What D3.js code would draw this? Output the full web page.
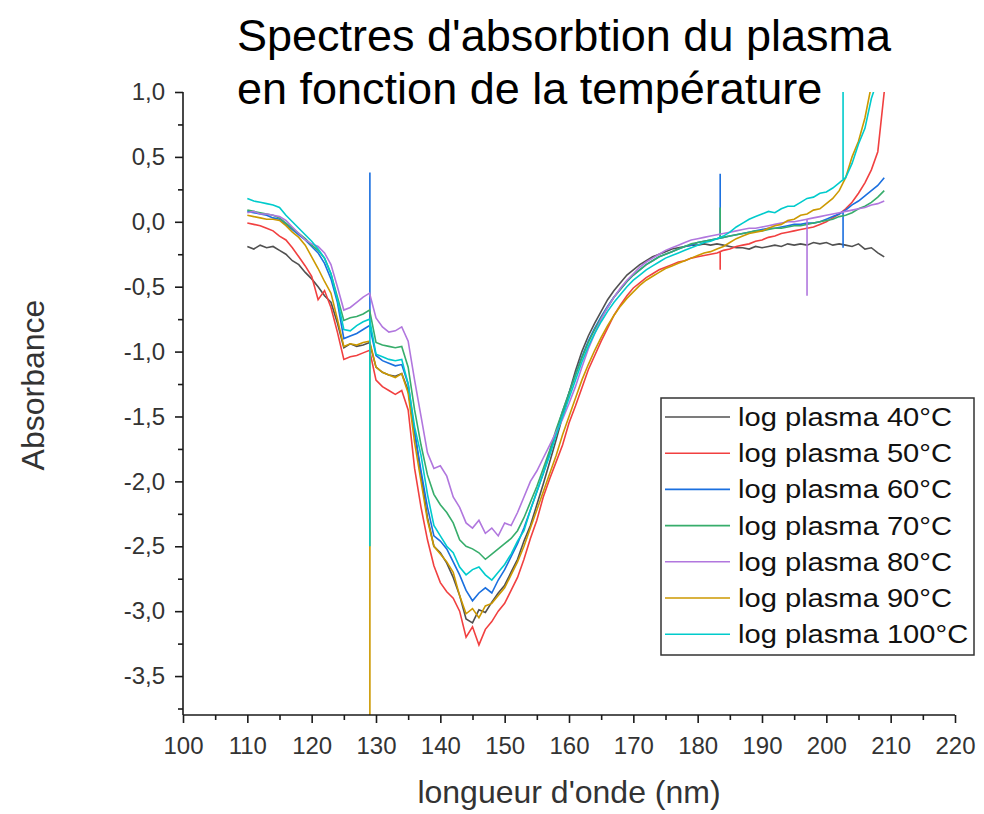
<!DOCTYPE html>
<html><head><meta charset="utf-8">
<script src="https://cdn.jsdelivr.net/npm/d3@7/dist/d3.min.js"></script>
<style>body{margin:0;background:#fff}svg{display:block}text{font-family:"Liberation Sans",Arial,sans-serif}</style>
</head><body>
<svg id="chart" width="984" height="814"></svg>
<script>
const titleLines = ["Spectres d'absorbtion du plasma", "en fonction de la température"];
const xLabel = "longueur d'onde (nm)";
const yLabel = "Absorbance";
const xTicks = [100,110,120,130,140,150,160,170,180,190,200,210,220];
const xMinor = [105,115,125,135,145,155,165,175,185,195,205,215];
const yTicks = [1.0,0.5,0.0,-0.5,-1.0,-1.5,-2.0,-2.5,-3.0,-3.5];
const yMinor = [0.75,0.25,-0.25,-0.75,-1.25,-1.75,-2.25,-2.75,-3.25,-3.75];
const seriesNames = ["log plasma 40°C","log plasma 50°C","log plasma 60°C","log plasma 70°C","log plasma 80°C","log plasma 90°C","log plasma 100°C"];
const seriesColors = ["#515151","#F14040","#1A6FDF","#37AD6B","#B177DE","#CC9900","#00CBCC"];

const wavelength = [110,111,112,113,114,115,116,117,118,119,120,121,122,123,124,125,126,127,128,129,
130,131,132,133,134,135,136,137,138,139,140,141,142,143,144,145,146,147,148,149,
150,151,152,153,154,155,156,157,158,159,160,161,162,163,164,165,166,167,168,169,
170,171,172,173,174,175,176,177,178,179,180,181,182,183,184,185,186,187,188,189,
190,191,192,193,194,195,196,197,198,199,200,201,202,203,204,205,206,207,208,209];

const plasma40 = [-0.19,-0.21,-0.18,-0.20,-0.19,-0.22,-0.25,-0.30,-0.33,-0.39,
-0.44,-0.50,-0.57,-0.62,-0.78,-0.97,-0.94,-0.96,-0.95,-0.93,
-1.12,-1.16,-1.18,-1.19,-1.17,-1.30,-1.62,-1.95,-2.28,-2.50,
-2.55,-2.63,-2.74,-2.88,-3.06,-3.09,-2.99,-3.01,-2.93,-2.86,
-2.80,-2.70,-2.60,-2.46,-2.34,-2.18,-2.02,-1.85,-1.68,-1.50,
-1.32,-1.15,-1.00,-0.88,-0.78,-0.69,-0.60,-0.53,-0.47,-0.41,
-0.37,-0.33,-0.30,-0.27,-0.25,-0.23,-0.21,-0.20,-0.19,-0.18,
-0.18,-0.17,-0.18,-0.17,-0.18,-0.19,-0.20,-0.20,-0.21,-0.19,
-0.20,-0.19,-0.18,-0.19,-0.17,-0.18,-0.17,-0.18,-0.16,-0.17,
-0.16,-0.18,-0.17,-0.18,-0.19,-0.17,-0.21,-0.20,-0.24,-0.27];

const plasma50 = [-0.01,-0.02,-0.03,-0.05,-0.07,-0.11,-0.14,-0.20,-0.27,-0.34,
-0.42,-0.60,-0.53,-0.66,-0.85,-1.06,-1.04,-1.03,-1.01,-0.99,
-1.22,-1.27,-1.30,-1.33,-1.30,-1.45,-1.90,-2.20,-2.45,-2.65,
-2.78,-2.85,-2.90,-3.00,-3.20,-3.12,-3.26,-3.14,-3.08,-3.00,
-2.94,-2.84,-2.74,-2.60,-2.44,-2.30,-2.12,-1.98,-1.85,-1.72,
-1.55,-1.42,-1.28,-1.14,-1.03,-0.92,-0.82,-0.72,-0.64,-0.57,
-0.51,-0.47,-0.43,-0.40,-0.37,-0.35,-0.33,-0.31,-0.30,-0.28,
-0.27,-0.26,-0.25,-0.24,-0.22,-0.21,-0.19,-0.18,-0.17,-0.15,
-0.14,-0.12,-0.11,-0.09,-0.08,-0.07,-0.06,-0.05,-0.04,-0.02,
0.00,0.03,0.06,0.10,0.15,0.22,0.30,0.40,0.54,1.00];

const plasma60 = [0.08,0.07,0.06,0.05,0.03,0.02,-0.02,-0.06,-0.10,-0.14,
-0.19,-0.24,-0.32,-0.44,-0.62,-0.90,-0.88,-0.86,-0.83,-0.80,
-1.03,-1.07,-1.09,-1.11,-1.10,-1.25,-1.62,-1.92,-2.20,-2.42,
-2.46,-2.52,-2.62,-2.72,-2.84,-2.92,-2.86,-2.82,-2.86,-2.76,
-2.68,-2.58,-2.48,-2.36,-2.22,-2.08,-1.94,-1.78,-1.62,-1.46,
-1.32,-1.18,-1.04,-0.92,-0.82,-0.73,-0.65,-0.58,-0.52,-0.46,
-0.41,-0.37,-0.33,-0.30,-0.27,-0.25,-0.23,-0.21,-0.19,-0.18,
-0.16,-0.15,-0.14,-0.13,-0.12,-0.11,-0.10,-0.09,-0.08,-0.07,
-0.06,-0.05,-0.05,-0.04,-0.03,-0.02,-0.02,-0.01,-0.01,0.00,
0.02,0.04,0.06,0.09,0.13,0.16,0.20,0.24,0.28,0.34];

const plasma70 = [0.09,0.08,0.07,0.06,0.05,0.03,-0.01,-0.05,-0.09,-0.13,
-0.18,-0.22,-0.28,-0.40,-0.58,-0.76,-0.74,-0.73,-0.71,-0.68,
-0.93,-0.95,-0.96,-0.97,-0.96,-1.12,-1.45,-1.72,-1.95,-2.10,
-2.18,-2.24,-2.32,-2.45,-2.50,-2.52,-2.55,-2.60,-2.56,-2.52,
-2.48,-2.44,-2.38,-2.28,-2.16,-2.04,-1.90,-1.76,-1.60,-1.46,
-1.32,-1.18,-1.05,-0.93,-0.83,-0.74,-0.66,-0.58,-0.52,-0.46,
-0.41,-0.37,-0.33,-0.30,-0.27,-0.25,-0.23,-0.21,-0.19,-0.17,
-0.16,-0.15,-0.14,-0.13,-0.12,-0.11,-0.10,-0.09,-0.08,-0.07,
-0.07,-0.06,-0.05,-0.05,-0.04,-0.03,-0.03,-0.02,-0.01,0.00,
0.01,0.02,0.04,0.05,0.07,0.10,0.12,0.15,0.19,0.24];

const plasma80 = [0.07,0.08,0.06,0.06,0.05,0.04,0.01,-0.04,-0.09,-0.14,
-0.17,-0.19,-0.24,-0.33,-0.50,-0.68,-0.66,-0.62,-0.58,-0.55,
-0.74,-0.81,-0.85,-0.84,-0.81,-0.92,-1.22,-1.50,-1.78,-1.90,
-1.88,-1.96,-2.12,-2.20,-2.32,-2.36,-2.30,-2.40,-2.36,-2.42,
-2.32,-2.34,-2.24,-2.12,-2.00,-1.92,-1.82,-1.72,-1.62,-1.52,
-1.40,-1.27,-1.12,-0.98,-0.86,-0.75,-0.66,-0.58,-0.51,-0.45,
-0.40,-0.35,-0.31,-0.28,-0.25,-0.22,-0.20,-0.18,-0.16,-0.14,
-0.13,-0.12,-0.11,-0.10,-0.09,-0.08,-0.07,-0.06,-0.05,-0.05,
-0.04,-0.03,-0.02,-0.01,0.00,0.00,0.01,0.02,0.03,0.04,
0.05,0.06,0.07,0.08,0.09,0.10,0.11,0.13,0.14,0.16];

const plasma90 = [0.05,0.04,0.03,0.02,0.02,0.01,-0.03,-0.08,-0.12,-0.18,
-0.27,-0.36,-0.46,-0.55,-0.75,-0.96,-0.94,-0.95,-0.93,-0.92,
-1.12,-1.16,-1.18,-1.20,-1.17,-1.32,-1.70,-2.00,-2.30,-2.50,
-2.56,-2.62,-2.70,-2.88,-3.02,-2.98,-3.05,-2.96,-2.94,-2.88,
-2.82,-2.72,-2.62,-2.50,-2.36,-2.22,-2.08,-1.94,-1.80,-1.64,
-1.50,-1.36,-1.22,-1.10,-0.99,-0.89,-0.80,-0.72,-0.65,-0.59,
-0.54,-0.49,-0.45,-0.42,-0.39,-0.36,-0.34,-0.32,-0.30,-0.28,
-0.26,-0.24,-0.23,-0.21,-0.19,-0.16,-0.13,-0.11,-0.09,-0.08,
-0.07,-0.05,-0.03,-0.02,0.01,0.02,0.05,0.06,0.09,0.10,
0.14,0.18,0.24,0.34,0.50,0.62,0.80,1.05,1.20,1.30];

const plasma100 = [0.18,0.16,0.15,0.14,0.13,0.11,0.05,0.00,-0.05,-0.10,
-0.15,-0.21,-0.28,-0.40,-0.60,-0.83,-0.84,-0.80,-0.77,-0.75,
-1.02,-1.04,-1.06,-1.07,-1.06,-1.25,-1.58,-1.80,-2.10,-2.34,
-2.42,-2.50,-2.55,-2.66,-2.72,-2.68,-2.66,-2.72,-2.76,-2.70,
-2.64,-2.56,-2.46,-2.38,-2.22,-2.08,-1.94,-1.80,-1.64,-1.50,
-1.36,-1.22,-1.08,-0.96,-0.86,-0.77,-0.69,-0.62,-0.56,-0.50,
-0.45,-0.41,-0.37,-0.34,-0.31,-0.28,-0.26,-0.24,-0.22,-0.20,
-0.18,-0.16,-0.15,-0.13,-0.11,-0.08,-0.04,-0.01,0.02,0.04,
0.06,0.08,0.07,0.10,0.12,0.12,0.15,0.18,0.19,0.22,
0.23,0.26,0.30,0.34,0.45,0.60,0.72,0.95,1.10,1.20];

// single-point spikes in the recorded spectra: series index, wavelength, peak value
const spikeSeries = [2, 6, 5, 2, 3, 1, 4, 6, 2];
const spikeX      = [129.05, 129.05, 129.05, 183.5, 183.5, 183.5, 197.0, 202.6, 202.6];
const spikeY      = [0.38, -2.5, -5.0, 0.37, 0.11, -0.37, -0.57, 1.5, -0.2];

const seriesValues = [plasma40, plasma50, plasma60, plasma70, plasma80, plasma90, plasma100];

const svg = d3.select("#chart");
const L = 183, R = 955, T = 92, B = 715;
const x = d3.scaleLinear().domain([100, 220]).range([L, R]);
const y = d3.scaleLinear().domain([-3.8, 1.0]).range([B, T]);

// title
titleLines.forEach((t, i) => {
  svg.append("text").attr("x", 237).attr("y", 51 + i * 53).attr("font-size", 45).attr("fill", "#000").text(t);
});

svg.append("defs").append("clipPath").attr("id", "plotclip")
  .append("rect").attr("x", L).attr("y", T).attr("width", R - L).attr("height", B - T);

const line = d3.line().x(d => x(d[0])).y(d => y(d[1]));
const g = svg.append("g").attr("clip-path", "url(#plotclip)");

seriesValues.forEach((vals, si) => {
  let pts = wavelength.map((w, i) => [w, vals[i]]);
  spikeSeries.forEach((s, k) => {
    if (s !== si) return;
    const sx = spikeX[k];
    const j = pts.findIndex(p => p[0] > sx);
    const a = pts[j - 1], b = pts[j];
    const base = a[1] + (b[1] - a[1]) * (sx - a[0]) / (b[0] - a[0]);
    pts.splice(j, 0, [sx, base], [sx, spikeY[k]], [sx, base]);
  });
  g.append("path").datum(pts).attr("d", line).attr("fill", "none")
    .attr("stroke", seriesColors[si]).attr("stroke-width", 1.6).attr("stroke-linejoin", "miter");
});

// axes
const fmt = d => (d < 0 ? "-" : "") + Math.abs(d).toFixed(1).replace(".", ",");
const axX = svg.append("g").attr("transform", `translate(0,${B})`)
  .call(d3.axisBottom(x).tickValues(xTicks).tickSize(8).tickPadding(14).tickFormat(d => d));
const axXm = svg.append("g").attr("transform", `translate(0,${B})`)
  .call(d3.axisBottom(x).tickValues(xMinor).tickSize(5).tickFormat(""));
const axY = svg.append("g").attr("transform", `translate(${L},0)`)
  .call(d3.axisLeft(y).tickValues(yTicks).tickSize(8).tickPadding(10).tickFormat(fmt));
const axYm = svg.append("g").attr("transform", `translate(${L},0)`)
  .call(d3.axisLeft(y).tickValues(yMinor).tickSize(5).tickFormat(""));
[axX, axXm, axY, axYm].forEach(a => {
  a.select(".domain").attr("stroke", "#1a1a1a").attr("stroke-width", 1.6);
  a.selectAll(".tick line").attr("stroke", "#1a1a1a").attr("stroke-width", 1.6);
  a.selectAll(".tick text").attr("font-family", "'Liberation Sans',Arial,sans-serif")
    .attr("font-size", 24).attr("fill", "#333");
});
axXm.select(".domain").remove();
axYm.select(".domain").remove();
axX.select(".domain").attr("d", `M${L},0H${R}`);
axY.select(".domain").attr("d", `M0,${T}V${B}`);

// axis titles
svg.append("text").attr("x", 569).attr("y", 803).attr("text-anchor", "middle")
  .attr("font-size", 32).attr("fill", "#333").text(xLabel);
svg.append("text").attr("transform", "translate(44,385) rotate(-90)").attr("text-anchor", "middle")
  .attr("font-size", 32).attr("fill", "#333").text(yLabel);

// legend
const lg = svg.append("g");
lg.append("rect").attr("x", 661).attr("y", 398).attr("width", 313).attr("height", 257)
  .attr("fill", "#fff").attr("stroke", "#333").attr("stroke-width", 1.5);
const legTexts = [];
seriesNames.forEach((n, i) => {
  const cy = 417 + i * 36.2;
  lg.append("line").attr("x1", 665).attr("x2", 730).attr("y1", cy).attr("y2", cy)
    .attr("stroke", seriesColors[i]).attr("stroke-width", 1.6);
  legTexts.push(lg.append("text").attr("x", 738).attr("y", cy + 9).attr("font-size", 25).attr("fill", "#111").text(n));
});
const k = 214 / legTexts[0].node().getComputedTextLength();
legTexts.forEach(t => {
  const w = t.node().getComputedTextLength();
  t.attr("textLength", w * k).attr("lengthAdjust", "spacingAndGlyphs");
});
</script>
</body></html>
